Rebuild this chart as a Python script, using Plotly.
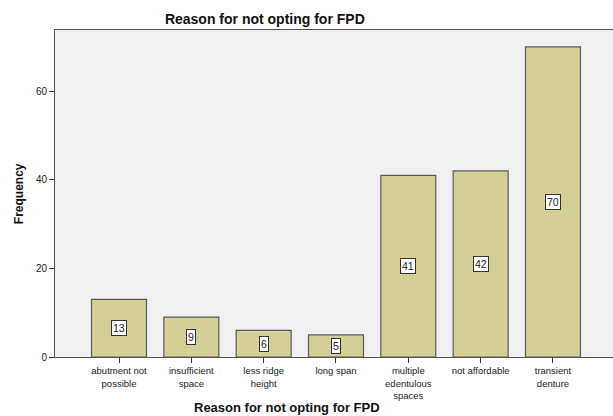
import plotly.graph_objects as go

categories = ["abutment not<br>possible", "insufficient<br>space", "less ridge<br>height",
              "long span", "multiple<br>edentulous<br>spaces", "not affordable",
              "transient<br>denture"]
frequencies = [13, 9, 6, 5, 41, 42, 70]
y_ticks = [0, 20, 40, 60]

FONT = "Liberation Sans, Arial"

fig = go.Figure()
fig.add_trace(go.Bar(
    x=list(range(len(categories))), y=frequencies, width=0.76,
    marker=dict(color="#D3CF96", line=dict(color="#5a5a5a", width=1.2)),
    hoverinfo="skip",
))

for i, v in enumerate(frequencies):
    fig.add_annotation(x=i, y=v / 2, text=str(v), showarrow=False,
                       font=dict(family=FONT, size=10.5, color="#222"),
                       bgcolor="white", bordercolor="#333", borderwidth=1, borderpad=1)

fig.add_annotation(xref="paper", yref="paper", x=0.416, y=-0.153, text="<b>Reason for not opting for FPD</b>",
                   showarrow=False, font=dict(family=FONT, size=13, color="#111"),
                   xanchor="center", yanchor="middle")
fig.add_annotation(xref="paper", yref="paper", x=-0.0645, y=0.498, text="<b>Frequency</b>",
                   showarrow=False, textangle=-90, font=dict(family=FONT, size=12, color="#111"),
                   xanchor="center", yanchor="middle")

fig.update_layout(
    width=613, height=416,
    margin=dict(l=55, r=0, t=30, b=59),
    paper_bgcolor="white", plot_bgcolor="#F0F0F0",
    showlegend=False,
    title=dict(text="<b>Reason for not opting for FPD</b>", xref="container", yref="container",
               x=0.432, y=0.954, xanchor="center", yanchor="middle",
               font=dict(family=FONT, size=14, color="#111")),
    xaxis=dict(range=[-0.885, 6.83], tickmode="array", tickvals=list(range(len(categories))),
               ticktext=categories, ticks="outside", ticklen=5, tickcolor="#333",
               showline=True, linecolor="#555", linewidth=1, mirror=True,
               showgrid=False, zeroline=False,
               tickfont=dict(family=FONT, size=9.5, color="#222")),
    yaxis=dict(range=[0, 73.8], tickmode="array", tickvals=y_ticks, ticks="outside", ticklen=5,
               tickcolor="#333", showline=True, linecolor="#555", linewidth=1,
               showgrid=False, zeroline=False,
               tickfont=dict(family=FONT, size=10, color="#222")),
)

fig.write_html("out.html", config={"displayModeBar": False},
               post_script="document.body.style.margin='0';document.body.style.overflow='hidden';")
